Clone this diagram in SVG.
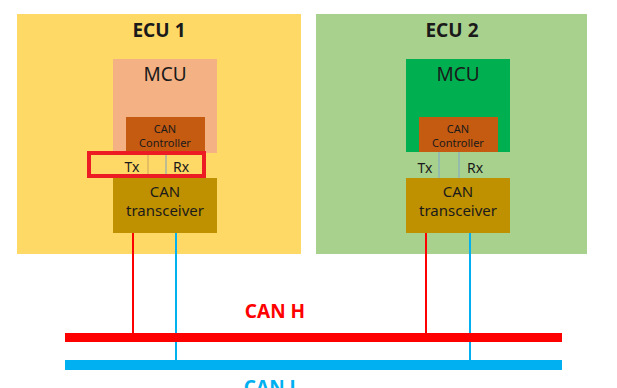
<svg xmlns="http://www.w3.org/2000/svg" width="617" height="388" viewBox="0 0 617 388">
<style>
text{font-family:"Noto Sans","Open Sans","Liberation Sans",sans-serif;text-anchor:middle;fill:#1a1a1a}
.title{font-size:19px;font-weight:bold}
.mcu{font-size:19px}
.ctl{font-size:11px}
.trx{font-size:15px}
.pin{font-size:14px}
.sig{stroke-width:2;fill:none}
</style>
<rect width="617" height="388" fill="#ffffff"/>
<g id="ecu1">
<rect x="17" y="14" width="284" height="240" fill="#FFD966"/>
<text class="title" x="159" y="37">ECU 1</text>
</g>
<g id="ecu2">
<rect x="316" y="14" width="271" height="240" fill="#A9D18E"/>
<text class="title" x="452" y="37">ECU 2</text>
</g>
<g id="mcu1">
<rect x="113" y="59" width="104" height="94" fill="#F4B183"/>
<text class="mcu" x="165" y="81">MCU</text>
</g>
<g id="ctl1">
<rect x="126" y="117" width="79" height="36" fill="#C55A11"/>
<text class="ctl" x="165" y="133">CAN</text>
<text class="ctl" x="165" y="147">Controller</text>
</g>
<g id="mcu2">
<rect x="406" y="59" width="104" height="93" fill="#00B050"/>
<text class="mcu" x="458" y="81">MCU</text>
</g>
<g id="ctl2">
<rect x="419" y="117" width="79" height="35" fill="#C55A11"/>
<text class="ctl" x="458" y="133">CAN</text>
<text class="ctl" x="458" y="147">Controller</text>
</g>
<g id="connectors">
<line x1="148" y1="153" x2="148" y2="178" stroke="#C9A25A" stroke-width="1"/>
<line x1="166" y1="153" x2="166" y2="178" stroke="#7F9FC0" stroke-width="1"/>
<line x1="439" y1="152" x2="439" y2="178" stroke="#7FA7C9" stroke-width="1"/>
<line x1="459" y1="152" x2="459" y2="178" stroke="#7FA7C9" stroke-width="1"/>
<line class="sig" x1="133" y1="233" x2="133" y2="334" stroke="#FF0000"/>
<line class="sig" x1="176" y1="233" x2="176" y2="361" stroke="#00B0F0"/>
<line class="sig" x1="426" y1="233" x2="426" y2="334" stroke="#FF0000"/>
<line class="sig" x1="470" y1="233" x2="470" y2="361" stroke="#00B0F0"/>
</g>
<g id="trx1">
<rect x="113" y="178" width="104" height="55" fill="#BF9000"/>
<text class="trx" x="165" y="197">CAN</text>
<text class="trx" x="165" y="216">transceiver</text>
</g>
<g id="trx2">
<rect x="406" y="178" width="104" height="55" fill="#BF9000"/>
<text class="trx" x="458" y="197">CAN</text>
<text class="trx" x="458" y="216">transceiver</text>
</g>
<g id="pins1">
<text class="pin" x="132" y="172">Tx</text>
<text class="pin" x="181" y="172">Rx</text>
<rect x="89" y="153" width="115" height="23" fill="none" stroke="#ED1C24" stroke-width="4"/>
</g>
<g id="pins2">
<text class="pin" x="425" y="173">Tx</text>
<text class="pin" x="475" y="173">Rx</text>
</g>
<g id="can-h">
<rect x="65" y="333" width="497" height="9" fill="#FF0000"/>
<text x="275" y="318" style="font-size:19px;font-weight:bold;fill:#FF0000">CAN H</text>
</g>
<g id="can-l">
<rect x="65" y="360" width="497" height="10" fill="#00B0F0"/>
<text x="272" y="394" style="font-size:19px;font-weight:bold;fill:#00B0F0">CAN L</text>
</g>
</svg>
